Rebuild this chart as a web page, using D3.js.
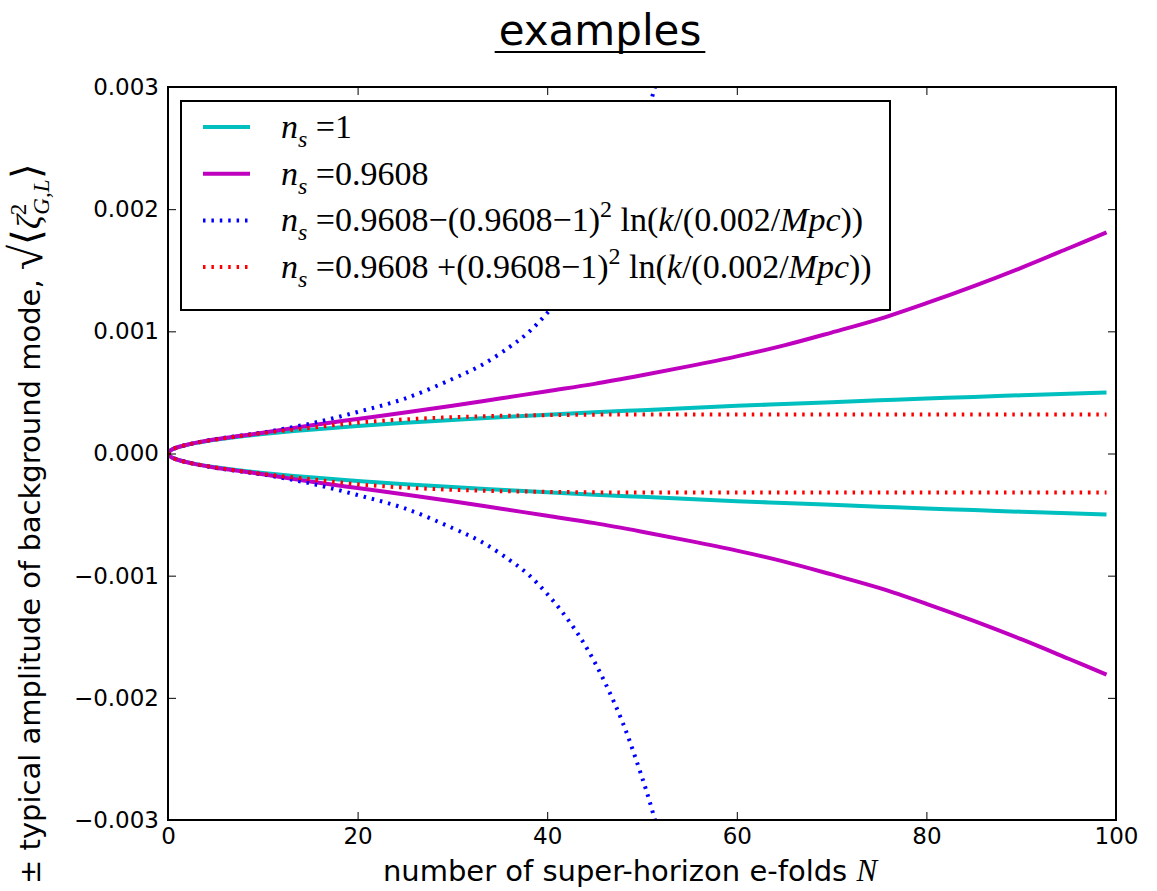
<!DOCTYPE html>
<html>
<head>
<meta charset="utf-8">
<script src="https://cdn.jsdelivr.net/npm/d3@7"></script>
<style>
  body { margin: 0; background: #fff; }
  svg { display: block; }
</style>
</head>
<body>
<div class="container"></div>
<script>
// canvas size and plot box
const width = 1157;
const height = 891;
const margin = { top: 87, right: 41, bottom: 71, left: 168 };

// e-fold grids and amplitudes (upper branch; lower one is mirrored)
const nCyan = [0, 0.25, 0.5, 1, 2, 3, 5, 7, 10, 15, 20, 25, 30, 35, 40, 45, 50, 55, 60, 65, 70, 75, 80, 85, 90, 95, 99];
const cyanVals = [0, 0.000025, 0.000036, 0.00005, 0.000071, 0.000087, 0.000112, 0.000133, 0.000159, 0.000195, 0.000225, 0.000251, 0.000275, 0.000297, 0.000318, 0.000337, 0.000355, 0.000373, 0.00039, 0.000405, 0.00042, 0.000435, 0.00045, 0.000463, 0.000477, 0.00049, 0.0005];

const nMagenta = [0, 0.25, 0.5, 1, 2, 3, 5, 7, 10, 15, 20, 25, 30, 35, 40, 45, 50, 55, 60, 65, 70, 75, 80, 85, 90, 95, 99];
const magentaVals = [0, 0.000025, 0.000036, 0.000051, 0.000072, 0.000089, 0.000116, 0.000138, 0.00017, 0.00023, 0.000283, 0.000335, 0.00039, 0.00045, 0.00051, 0.00057, 0.00064, 0.000715, 0.000795, 0.000885, 0.00099, 0.0011, 0.00123, 0.00137, 0.00152, 0.00168, 0.00181];

const nBlue = [0, 0.25, 0.5, 1, 2, 3, 5, 7, 10, 15, 20, 25, 30, 33, 36, 38, 40, 42, 44, 46, 48, 50, 51, 52];
const blueVals = [0, 0.000025, 0.000036, 0.000051, 0.000072, 0.000089, 0.000117, 0.00014, 0.000172, 0.000245, 0.00034, 0.00045, 0.00061, 0.00072, 0.00087, 0.00099, 0.00115, 0.00134, 0.00157, 0.00186, 0.00221, 0.00265, 0.0029, 0.00318];

const nRed = [0, 0.25, 0.5, 1, 2, 3, 5, 7, 10, 15, 20, 25, 30, 35, 40, 45, 50, 60, 70, 80, 90, 99];
const redVals = [0, 0.000025, 0.000036, 0.000051, 0.000072, 0.000088, 0.000114, 0.000136, 0.000168, 0.00021, 0.000252, 0.000279, 0.000297, 0.000308, 0.000314, 0.000318, 0.00032, 0.00032, 0.00032, 0.00032, 0.00032, 0.00032];

const xTicks = [0, 20, 40, 60, 80, 100];
const yTicks = [-0.003, -0.002, -0.001, 0, 0.001, 0.002, 0.003];

// legend labels, split in pieces: i = italic, sub / sup = shifted
const legendLabels = [
  [{ t: "n", i: 1 }, { t: "s", i: 1, sub: 1 }, { t: " =1" }],
  [{ t: "n", i: 1 }, { t: "s", i: 1, sub: 1 }, { t: " =0.9608" }],
  [{ t: "n", i: 1 }, { t: "s", i: 1, sub: 1 }, { t: " =0.9608\u2212(0.9608\u22121)" }, { t: "2", sup: 1 }, { t: " ln(" }, { t: "k", i: 1 }, { t: "/(0.002/" }, { t: "Mpc", i: 1 }, { t: "))" }],
  [{ t: "n", i: 1 }, { t: "s", i: 1, sub: 1 }, { t: " =0.9608 +(0.9608\u22121)" }, { t: "2", sup: 1 }, { t: " ln(" }, { t: "k", i: 1 }, { t: "/(0.002/" }, { t: "Mpc", i: 1 }, { t: "))" }]
];

const series = [
  { n: nCyan, v: cyanVals, color: "#00bfbf", dash: null, w: 4 },
  { n: nMagenta, v: magentaVals, color: "#bf00bf", dash: null, w: 4 },
  { n: nBlue, v: blueVals, color: "#0000ff", dash: "2.5,5.9", w: 4 },
  { n: nRed, v: redVals, color: "#ff0000", dash: "2.5,5.9", w: 4 }
];

const svg = d3.select(".container")
  .append("svg")
  .attr("width", width)
  .attr("height", height);

const x = d3.scaleLinear().domain([0, 100]).range([margin.left, width - margin.right]);
const y = d3.scaleLinear().domain([-0.003, 0.003]).range([height - margin.bottom, margin.top]);

svg.append("clipPath").attr("id", "plotclip")
  .append("rect")
  .attr("x", margin.left).attr("y", margin.top)
  .attr("width", x(100) - x(0)).attr("height", y(-0.003) - y(0.003));

// curves: both signs of each amplitude
const plot = svg.append("g").attr("clip-path", "url(#plotclip)");
series.forEach(s => {
  [1, -1].forEach(sign => {
    const line = d3.line()
      .x((d, i) => x(s.n[i]))
      .y(d => y(sign * d))
      .curve(d3.curveCatmullRom);
    plot.append("path")
      .attr("d", line(s.v))
      .attr("fill", "none")
      .attr("stroke", s.color)
      .attr("stroke-width", s.w)
      .attr("stroke-dasharray", s.dash);
  });
});

// axes, ticks inward on all four sides
const tickFont = "DejaVu Sans, sans-serif";
const axB = svg.append("g").attr("transform", `translate(0,${y(-0.003)})`)
  .call(d3.axisBottom(x).tickValues(xTicks).tickSize(-8).tickPadding(8).tickFormat(d3.format("d")));
const axT = svg.append("g").attr("transform", `translate(0,${y(0.003)})`)
  .call(d3.axisTop(x).tickValues(xTicks).tickSize(-8).tickFormat(""));
const axL = svg.append("g").attr("transform", `translate(${x(0)},0)`)
  .call(d3.axisLeft(y).tickValues(yTicks).tickSize(-8).tickPadding(9).tickFormat(d3.format(".3f")));
const axR = svg.append("g").attr("transform", `translate(${x(100)},0)`)
  .call(d3.axisRight(y).tickValues(yTicks).tickSize(-8).tickFormat(""));
[axB, axT, axL, axR].forEach(a => {
  a.select(".domain").remove();
  a.selectAll(".tick line").attr("stroke", "#000").attr("stroke-width", 1);
  a.selectAll(".tick text").attr("font-family", tickFont).attr("font-size", 23).attr("fill", "#000");
});

svg.append("rect")
  .attr("x", x(0)).attr("y", y(0.003))
  .attr("width", x(100) - x(0)).attr("height", y(-0.003) - y(0.003))
  .attr("fill", "none").attr("stroke", "#000").attr("stroke-width", 2);

// legend
const legend = svg.append("g");
legend.append("rect")
  .attr("x", 181).attr("y", 101).attr("width", 709).attr("height", 209)
  .attr("fill", "#fff").attr("stroke", "#000").attr("stroke-width", 2);

legendLabels.forEach((parts, k) => {
  const cy = 127 + k * 46.7;
  const s = series[k];
  legend.append("line")
    .attr("x1", 203).attr("x2", 250).attr("y1", cy).attr("y2", cy)
    .attr("stroke", s.color).attr("stroke-width", s.w)
    .attr("stroke-dasharray", s.dash);
  const txt = legend.append("text")
    .attr("x", 281).attr("y", cy + 11)
    .attr("font-family", "Liberation Serif, Times New Roman, serif")
    .attr("font-size", 34).attr("fill", "#000");
  let shift = 0;
  parts.forEach(p => {
    const target = p.sub ? 9 : p.sup ? -14 : 0;
    txt.append("tspan")
      .attr("dy", target - shift)
      .attr("font-style", p.i ? "italic" : "normal")
      .attr("font-size", (p.sub || p.sup) ? 24 : 34)
      .text(p.t);
    shift = target;
  });
});

// title
const title = svg.append("text")
  .attr("x", 600).attr("y", 45)
  .attr("text-anchor", "middle")
  .attr("font-family", "Comic Sans MS, DejaVu Sans, sans-serif")
  .attr("font-size", 42)
  .text("examples");
const tb = title.node().getBBox();
svg.append("line")
  .attr("x1", tb.x - 4).attr("x2", tb.x + tb.width + 4)
  .attr("y1", 52).attr("y2", 52)
  .attr("stroke", "#000").attr("stroke-width", 2);

// x label
const xl = svg.append("text")
  .attr("x", 630).attr("y", 881)
  .attr("text-anchor", "middle")
  .attr("font-family", tickFont).attr("font-size", 29);
xl.append("tspan").text("number of super-horizon e-folds ");
xl.append("tspan").attr("font-family", "Liberation Serif, serif").attr("font-style", "italic").attr("font-size", 31).text("N");

// y label, rotated
const yl = svg.append("text")
  .attr("transform", "translate(40,884) rotate(-90)")
  .attr("font-family", tickFont).attr("font-size", 29);
yl.append("tspan").text("\u00b1 typical amplitude of background mode, ");
yl.append("tspan").attr("font-family", "Liberation Serif, serif").attr("font-size", 46).attr("dy", 2).text("\u221a");
yl.append("tspan").attr("font-family", "Liberation Serif, serif").attr("font-size", 40).attr("dy", -2).text("\u27e8");
yl.append("tspan").attr("font-family", "Liberation Serif, serif").attr("font-style", "italic").attr("font-size", 34).text("\u03b6");
yl.append("tspan").attr("font-family", "Liberation Serif, serif").attr("font-size", 23).attr("dy", -14).text("2");
yl.append("tspan").attr("font-family", "Liberation Serif, serif").attr("font-style", "italic").attr("font-size", 23).attr("dx", -11).attr("dy", 23).text("G,L");
yl.append("tspan").attr("font-family", "Liberation Serif, serif").attr("font-size", 40).attr("dy", -9).text("\u27e9");
</script>
</body>
</html>
